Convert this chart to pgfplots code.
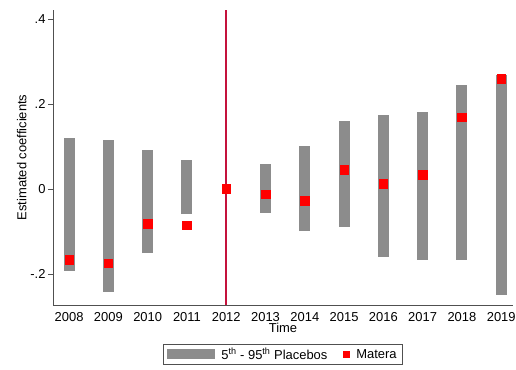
\documentclass[border=0pt]{standalone}
\usepackage{fontspec}
\setmainfont{Liberation Sans}
\usepackage{pgfplots}
\pgfplotsset{compat=1.18}
\definecolor{bargray}{RGB}{140,140,140}
\definecolor{matred}{RGB}{255,0,0}
\definecolor{vline}{RGB}{196,18,60}
\definecolor{axgray}{RGB}{80,80,80}
\begin{document}
\begin{tikzpicture}
\begin{axis}[
  at={(0,0)}, anchor=south west,
  scale only axis, width=460bp, height=295bp,
  xmin=2007.59, xmax=2019.3, ymin=-0.273, ymax=0.421,
  axis x line*=bottom, axis y line*=left,
  axis line style={axgray, line width=0.8bp, -},
  xtick={2008,2009,2010,2011,2012,2013,2014,2015,2016,2017,2018,2019},
  xticklabels={2008,2009,2010,2011,2012,2013,2014,2015,2016,2017,2018,2019},
  ytick={-0.2,0,0.2,0.4}, yticklabels={-.2,0,.2,.4},
  y tick style={axgray, line width=0.8bp},
  x tick style={draw=none},
  major tick length=5bp,
  tick align=outside,
  ticklabel style={font=\fontsize{13}{15}\selectfont},
  xticklabel style={yshift=1.5bp},
  yticklabel style={xshift=1bp},
  xlabel={Time}, ylabel={Estimated coefficients},
  label style={font=\fontsize{13}{15}\selectfont},
  xlabel style={yshift=4.5bp},
  ylabel style={yshift=-3bp},
  legend columns=2,
  legend style={at={(0.5,-0.132)}, anchor=north, draw=axgray, line width=0.6bp,
    font=\fontsize{13}{15}\selectfont, inner xsep=4bp, inner ysep=2bp,
    /tikz/every even column/.append style={column sep=14bp},
    /tikz/every odd column/.append style={column sep=4bp}},
  legend cell align=left,
  unbounded coords=jump,
]
\addplot[bargray, line width=11bp, mark=none,
  legend image code/.code={\fill[bargray, draw=none, line width=0pt] (0bp,-5bp) rectangle (48bp,5bp);}]
coordinates {
(2008,-0.192) (2008,0.119) (2008,nan)
(2009,-0.242) (2009,0.114) (2009,nan)
(2010,-0.151) (2010,0.092) (2010,nan)
(2011,-0.059) (2011,0.068) (2011,nan)
(2013,-0.056) (2013,0.058) (2013,nan)
(2014,-0.099) (2014,0.100) (2014,nan)
(2015,-0.089) (2015,0.160) (2015,nan)
(2016,-0.159) (2016,0.174) (2016,nan)
(2017,-0.167) (2017,0.180) (2017,nan)
(2018,-0.167) (2018,0.245) (2018,nan)
(2019,-0.249) (2019,0.268)
};
\addlegendentry{5\textsuperscript{th} - 95\textsuperscript{th} Placebos}
\addplot[vline, line width=2bp, mark=none, forget plot]
coordinates {(2012,-0.273) (2012,0.421)};
\addplot[only marks, mark=square*, mark size=4.3bp, color=matred,
  legend image code/.code={\fill[matred, draw=none] (-3.5bp,-3.5bp) rectangle (3.5bp,3.5bp);}]
coordinates {
(2008,-0.167) (2009,-0.175) (2010,-0.082) (2011,-0.085) (2012,0.000)
(2013,-0.012) (2014,-0.027) (2015,0.045) (2016,0.012) (2017,0.033)
(2018,0.169) (2019,0.260)
};
\addlegendentry{Matera}
\end{axis}
\pgfresetboundingbox
\path[use as bounding box] (-53bp,-65bp) rectangle (463bp,305bp);
\end{tikzpicture}
\end{document}
